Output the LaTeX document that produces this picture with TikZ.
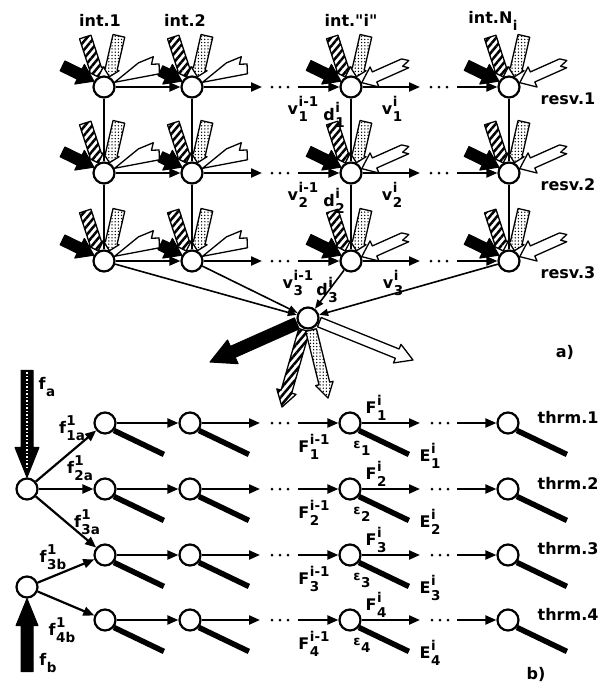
\documentclass[tikz,border=0pt]{standalone}
\usepackage{fontspec}
\setmainfont{DejaVu Sans}[Ligatures=TeXOff]
\usetikzlibrary{arrows.meta,patterns.meta,calc}
\pgfdeclarelayer{bg}\pgfdeclarelayer{vl}\pgfdeclarelayer{ic}
\pgfsetlayers{bg,vl,ic,main}
% arrow polygon: style, tip, angle, length, shaft half, head half, head length
\newcommand\Arr[7]{\path[#1,shift={#2},rotate=#3] (0,0) -- (-#7,#6) -- (-#7,#5) -- (-#4,#5) -- (-#4,-#5) -- (-#7,-#5) -- (-#7,-#6) -- cycle;}
\newcommand\ZArr[7]{\path[#1,shift={#2},rotate=#3] (0,0) -- (-#7,#6) -- (-#7,#5) -- (-#4,#5) -- (-#4-6,0.2*#5) -- (-#4+2,-0.3*#5) -- (-#4-3,-#5) -- (-#7,-#5) -- (-#7,-#6) -- cycle;}
\newcommand\Wedge[3]{\path[#1,shift={#2},rotate=#3] (0,0) -- (-44,-12) -- (-48,-3) -- (-41,0) -- (-46,6) -- (-30,7) -- cycle;}
\newcommand\Dts[2]{\fill (#1,#2) circle (1.5pt) (#1+8,#2) circle (1.5pt) (#1+16,#2) circle (1.5pt);}
\newcommand\SSc[3]{#1\kern0.5pt{\fontsize{13.5}{13.5}\selectfont\setbox0=\hbox{#2}\setbox2=\hbox{#3}\ifdim\wd0>\wd2\relax\rlap{\raisebox{8pt}{\copy2}}\raisebox{-7pt}{\copy0}\else\rlap{\raisebox{-7pt}{\copy0}}\raisebox{8pt}{\copy2}\fi}}
\newcommand\Sb[2]{#1\kern0.5pt{\fontsize{13.5}{13.5}\selectfont\raisebox{-7pt}{#2}}}
\begin{document}
\begin{tikzpicture}[x=1pt,y=-1pt,
  circ/.style={circle,draw,line width=2.2pt,fill=white,minimum size=21pt,inner sep=0pt},
  harr/.style={line width=2.2pt,-{Triangle[length=11pt,width=9pt]}},
  carr/.style={line width=1.6pt,-{Triangle[length=9pt,width=7pt]}},
  vline/.style={line width=2pt},
  bar/.style={line width=5.5pt},
  lab/.style={font=\fontsize{16}{18}\selectfont\bfseries,inner sep=0.5pt},
  blk/.style={fill=black,draw=black,line width=1pt,line join=round},
  hat/.style={draw=black,line width=1.3pt,line join=round,preaction={fill=white},pattern={Lines[angle=50,distance=5.5pt,line width=2.5pt]}},
  dtt/.style={draw=black,line width=1.3pt,line join=round,preaction={fill=white},pattern={Dots[distance=3.2pt,radius=0.75pt]}},
  wht/.style={draw=black,line width=1.3pt,fill=white,line join=round}]
\begin{pgfonlayer}{bg}
\fill[white] (0,0) rectangle (614,689);
\end{pgfonlayer}
\useasboundingbox (0,0) rectangle (614,689);
% ---------- part a ----------
\foreach \rw/\y in {1/87,2/173,3/261}{
  \node[circ] (a\rw1) at (104,\y) {};
  \node[circ] (a\rw2) at (192,\y) {};
  \node[circ] (a\rw3) at (351,\y) {};
  \node[circ] (a\rw4) at (509,\y) {};
  \coordinate (ae\rw) at (262,\y);
  \coordinate (as\rw) at (298,\y);
  \coordinate (be\rw) at (420,\y);
  \coordinate (bs\rw) at (457,\y);
  \draw[harr] (a\rw1) -- (a\rw2);
  \draw[harr] (a\rw2) -- (ae\rw);
  \draw[harr] (as\rw) -- (a\rw3);
  \draw[harr] (a\rw3) -- (be\rw);
  \draw[harr] (bs\rw) -- (a\rw4);
  \Dts{272}{\y}
  \Dts{431}{\y}
  \node[lab,anchor=west] (rv\rw) at (540,\y+12) {resv.\rw};
}
\node[circ] (C) at (308,318) {};
\begin{pgfonlayer}{vl}
\foreach \cc in {1,2,3,4}{
  \draw[vline] (a1\cc) -- (a2\cc);
  \draw[vline] (a2\cc) -- (a3\cc);
}
\end{pgfonlayer}
\foreach \cc in {1,2,3,4}{\draw[carr] (a3\cc) -- (C);}
\begin{pgfonlayer}{ic}
\foreach \rw in {1,2,3}{
  \foreach \cc/\bl in {1/35,2/24,3/36,4/36}{
    \Arr{blk}{(a\rw\cc.150)}{-26}{\bl}{5.5}{11}{16}
    \Arr{hat}{(a\rw\cc.120)}{-72}{42}{6}{8}{8}
    \Arr{dtt}{(a\rw\cc.62)}{-103}{42}{6}{8}{8}
  }
  \Wedge{wht}{(a\rw1.24)}{-154}
  \Wedge{wht}{(a\rw2.24)}{-154}
  \ZArr{wht}{(a\rw3.22)}{-156}{46}{5.5}{11}{14}
  \ZArr{wht}{(a\rw4.22)}{-156}{46}{5.5}{11}{14}
}
\Arr{blk}{(210,362)}{204}{95}{6}{13}{25}
\Arr{hat}{(282,407)}{-106}{80}{5.5}{10}{16}
\Arr{dtt}{(328,398)}{-76}{70}{5.5}{9}{15}
\Arr{wht}{(413,360)}{-22}{101}{5}{10}{17}
\end{pgfonlayer}
\node[lab] (i1) at (100,20) {int.1};
\node[lab] (i2) at (185,20) {int.2};
\node[lab] (i3) at (351,20) {int."i"};
\node[lab] (i4) at (493,21) {int.\Sb{N}{i}};
\node[lab] (vp1) at (303,109) {\SSc{v}{1}{i-1}};
\node[lab] (dd1) at (334,115) {\SSc{d}{1}{i}};
\node[lab] (vn1) at (392,109) {\SSc{v}{1}{i}};
\node[lab] (vp2) at (303,195) {\SSc{v}{2}{i-1}};
\node[lab] (dd2) at (334,201) {\SSc{d}{2}{i}};
\node[lab] (vn2) at (392,195) {\SSc{v}{2}{i}};
\node[lab] (vp3) at (298,283) {\SSc{v}{3}{i-1}};
\node[lab] (dd3) at (327,290) {\SSc{d}{3}{i}};
\node[lab] (vn3) at (393,283) {\SSc{v}{3}{i}};
\node[lab] (la) at (565,352) {a)};
% ---------- part b ----------
\foreach \rw/\y in {1/423,2/489,3/555,4/620}{
  \node[circ] (b\rw1) at (105,\y) {};
  \node[circ] (b\rw2) at (190,\y) {};
  \node[circ] (b\rw3) at (350,\y) {};
  \node[circ] (b\rw4) at (508,\y) {};
  \coordinate (ce\rw) at (260,\y);
  \coordinate (cs\rw) at (298,\y);
  \coordinate (de\rw) at (420,\y);
  \coordinate (ds\rw) at (457,\y);
  \draw[harr] (b\rw1) -- (b\rw2);
  \draw[harr] (b\rw2) -- (ce\rw);
  \draw[harr] (cs\rw) -- (b\rw3);
  \draw[harr] (b\rw3) -- (de\rw);
  \draw[harr] (ds\rw) -- (b\rw4);
  \Dts{272}{\y}
  \Dts{432}{\y}
  \node[lab] (Fn\rw) at (376,\y-15) {\SSc{F}{\rw}{i}};
  \node[lab] (Fp\rw) at (314,\y+24) {\SSc{F}{\rw}{i-1}};
  \node[lab] (ep\rw) at (362,\y+25) {\Sb{{\fontsize{13}{13}\selectfont ε}}{\rw}};
  \node[lab] (E\rw) at (430,\y+33) {\SSc{E}{\rw}{i}};
  \node[lab,anchor=west] (th\rw) at (537,\y-6) {thrm.\rw};
}
\begin{pgfonlayer}{vl}
\foreach \rw in {1,2,3,4}{
  \foreach \cc in {1,2,3,4}{\draw[bar] (b\rw\cc.-40) -- ++(50,24);}
}
\end{pgfonlayer}
\node[circ] (A) at (27,489) {};
\node[circ] (B) at (27,587) {};
\draw[harr] (A) -- (b11);
\draw[harr] (A) -- (b21);
\draw[harr] (A) -- (b31);
\draw[harr] (B) -- (b31);
\draw[harr] (B) -- (b41);
\begin{pgfonlayer}{ic}
\Arr{blk}{(A.north)}{-90}{107}{6}{12}{30}
\draw[white,line width=1.6pt,dash pattern=on 1.5pt off 2pt] (27,372) -- (27,468);
\Arr{blk}{(B.south)}{90}{73}{6}{11}{27}
\end{pgfonlayer}
\node[lab] (fa) at (47,387) {\Sb{f}{a}};
\node[lab] (f1a) at (72,428) {\SSc{f}{1a}{1}};
\node[lab] (f2a) at (80,468) {\SSc{f}{2a}{1}};
\node[lab] (f3a) at (87,522) {\SSc{f}{3a}{1}};
\node[lab] (f3b) at (53,557) {\SSc{f}{3b}{1}};
\node[lab] (f4b) at (62,630) {\SSc{f}{4b}{1}};
\node[lab] (fb) at (48,663) {\Sb{f}{b}};
\node[lab] (lb) at (536,674) {b)};
\end{tikzpicture}
\end{document}
